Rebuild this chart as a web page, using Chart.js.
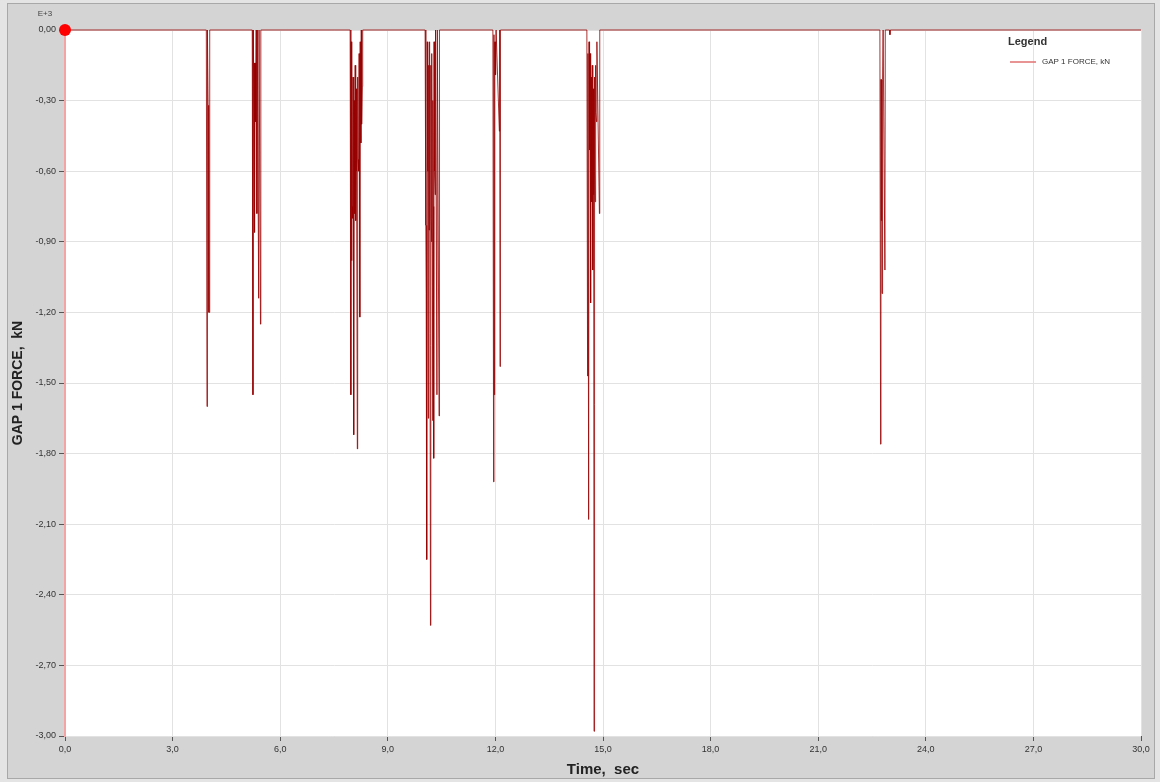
<!DOCTYPE html>
<html>
<head>
<meta charset="utf-8">
<script src="https://cdn.jsdelivr.net/npm/chart.js@4.4.1/dist/chart.umd.min.js"></script>
<style>
  body { margin: 0; background: #d4d4d4; }
  canvas { display: block; }
</style>
</head>
<body>
<canvas id="myChart" width="1160" height="782"></canvas>
<script>
// time in sec, force in kN (E+3)
let timeValues = [
    0.00,
    3.94, 3.96, 3.97, 3.99, 4.00, 4.01, 4.02, 4.03, 4.04,
    5.22, 5.24, 5.25, 5.27, 5.28, 5.29, 5.30, 5.31, 5.33, 5.35, 5.36, 5.40, 5.41, 5.45, 5.46,
    7.95, 7.97, 7.98, 7.99, 8.00, 8.01, 8.02, 8.03, 8.05, 8.06, 8.07, 8.08, 8.09, 8.10, 8.11, 8.12, 8.13, 8.15, 8.16, 8.17, 8.19, 8.20, 8.22, 8.23, 8.25, 8.26, 8.27, 8.29, 8.30,
    10.04, 10.06, 10.07, 10.08, 10.09, 10.10, 10.11, 10.12, 10.13, 10.14, 10.15, 10.16, 10.17, 10.19, 10.20, 10.21, 10.22, 10.23, 10.24, 10.25, 10.26, 10.27, 10.28, 10.29, 10.30, 10.32, 10.33, 10.37, 10.38, 10.43, 10.44,
    11.93, 11.95, 11.96, 11.97, 11.98, 11.99, 12.00, 12.01, 12.02, 12.11, 12.12, 12.13, 12.14,
    14.55, 14.57, 14.58, 14.60, 14.61, 14.62, 14.63, 14.64, 14.65, 14.66, 14.67, 14.68, 14.69, 14.70, 14.71, 14.72, 14.73, 14.74, 14.75, 14.76, 14.77, 14.78, 14.79, 14.80, 14.82, 14.83, 14.90, 14.91,
    22.72, 22.74, 22.75, 22.76, 22.77, 22.78, 22.79, 22.80, 22.81, 22.86, 22.87, 22.99, 23.00, 23.01,
    30.00
];
let forceValues = [
    0,
    0, -1.60, 0, -0.32, -1.20, -0.32, -1.20, -0.84, 0,
    0, -1.55, 0, -0.39, -0.14, -0.86, -0.14, -0.39, 0, -0.78, 0, -1.14, 0, -1.25, 0,
    0, -1.55, -0.05, -0.98, -0.10, -0.75, -0.80, -0.20, -1.72, -0.30, -0.78, -0.78, -0.15, -0.70, -0.81, -0.25, -0.60, -1.78, -0.20, -0.55, -0.60, -0.10, -1.22, -0.05, -0.48, 0, -0.40, -0.24, 0,
    0, -0.83, -1.12, -0.83, -2.25, -0.05, -0.60, -0.15, -1.65, -0.15, -0.85, -0.40, -0.05, -2.53, -0.15, -0.80, -0.90, -0.10, -0.90, -1.66, -0.30, -0.75, -1.82, -0.05, -0.60, -0.70, 0, -1.55, 0, -1.64, 0,
    0, -1.92, -0.02, -1.55, -0.05, -0.19, -0.05, -0.19, 0, -0.43, 0, -1.43, 0,
    0, -1.47, -0.10, -2.08, -0.05, -0.45, -0.51, -0.10, -0.60, -1.16, -0.20, -0.70, -0.73, -0.15, -0.65, -1.02, -0.25, -0.70, -2.98, -0.20, -0.60, -0.73, -0.15, -0.35, -0.39, -0.05, -0.78, 0,
    0, -1.76, -0.21, -0.81, -0.21, -1.12, -0.81, -0.21, 0, -1.02, 0, 0, -0.02, 0,
    0
];
let seriesName = 'GAP 1 FORCE, kN';
let xTitle = 'Time,  sec';
let yTitle = 'GAP 1 FORCE,  kN';
let yExponent = 'E+3';

let points = timeValues.map((t, i) => ({x: t, y: forceValues[i]}));

let framePlugin = {
    id: 'frame',
    beforeDraw(chart) {
        let ctx = chart.ctx;
        let a = chart.chartArea;
        ctx.save();
        ctx.fillStyle = '#e4e4e4';
        ctx.fillRect(0, 0, chart.width, chart.height);
        ctx.fillStyle = '#d4d4d4';
        ctx.fillRect(7, 3, 1148, 776);
        ctx.strokeStyle = '#a8a8a8';
        ctx.lineWidth = 1;
        ctx.strokeRect(7.5, 3.5, 1147, 775);
        ctx.fillStyle = '#ffffff';
        ctx.fillRect(a.left, a.top, a.right - a.left, a.bottom - a.top);
        ctx.restore();
    },
    afterDraw(chart) {
        let ctx = chart.ctx;
        ctx.save();
        ctx.fillStyle = '#444';
        ctx.font = '8px "Liberation Sans", Arial, sans-serif';
        ctx.textAlign = 'center';
        ctx.textBaseline = 'middle';
        ctx.fillText(yExponent, 45, 14);

        // legend in the top right corner
        ctx.textAlign = 'left';
        ctx.fillStyle = '#333';
        ctx.font = 'bold 11px "Liberation Sans", Arial, sans-serif';
        ctx.fillText('Legend', 1008, 42);
        ctx.strokeStyle = '#e07070';
        ctx.lineWidth = 1.5;
        ctx.beginPath();
        ctx.moveTo(1010, 62);
        ctx.lineTo(1036, 62);
        ctx.stroke();
        ctx.font = '8px "Liberation Sans", Arial, sans-serif';
        ctx.fillText(seriesName, 1042, 62);
        ctx.restore();
    }
};

new Chart('myChart', {
    type: 'line',
    data: {
        datasets: [{
            label: seriesName,
            data: points,
            borderColor: 'rgba(150,0,0,0.8)',
            borderWidth: 1,
            tension: 0,
            clip: false,
            pointRadius: ctx => ctx.dataIndex === 0 ? 6 : 0,
            pointBackgroundColor: '#ff0000',
            pointBorderColor: '#ff0000',
            pointBorderWidth: 0
        }]
    },
    options: {
        responsive: false,
        animation: false,
        devicePixelRatio: 1,
        layout: {padding: {left: 0, top: 30, right: 19, bottom: 0}},
        plugins: {
            legend: {display: false},
            tooltip: {enabled: false}
        },
        scales: {
            x: {
                type: 'linear',
                min: 0,
                max: 30,
                afterFit: s => { s.height = 46; },
                border: {display: false},
                grid: {color: '#e2e2e2', tickColor: '#555', tickLength: 5},
                ticks: {
                    stepSize: 3,
                    padding: 3,
                    color: '#333',
                    font: {size: 9, family: '"Liberation Sans", Arial, sans-serif'},
                    callback: v => v.toFixed(1).replace('.', ',')
                },
                title: {
                    display: true,
                    text: xTitle,
                    color: '#222',
                    font: {size: 15, weight: 'bold', family: '"Liberation Sans", Arial, sans-serif'},
                    padding: {top: 0, bottom: 3}
                }
            },
            y: {
                min: -3,
                max: 0,
                afterFit: s => { s.width = 65; },
                border: {display: true, color: '#f4a4a4', width: 2},
                grid: {color: '#e2e2e2', tickColor: '#555', tickLength: 6},
                ticks: {
                    stepSize: 0.3,
                    padding: 3,
                    color: '#333',
                    font: {size: 9, family: '"Liberation Sans", Arial, sans-serif'},
                    callback: v => (Math.abs(v) < 1e-9 ? 0 : v).toFixed(2).replace('.', ',')
                },
                title: {
                    display: true,
                    text: yTitle,
                    color: '#222',
                    font: {size: 14, weight: 'bold', family: '"Liberation Sans", Arial, sans-serif'},
                    padding: {top: 10, bottom: 0}
                }
            }
        }
    },
    plugins: [framePlugin]
});
</script>
</body>
</html>
